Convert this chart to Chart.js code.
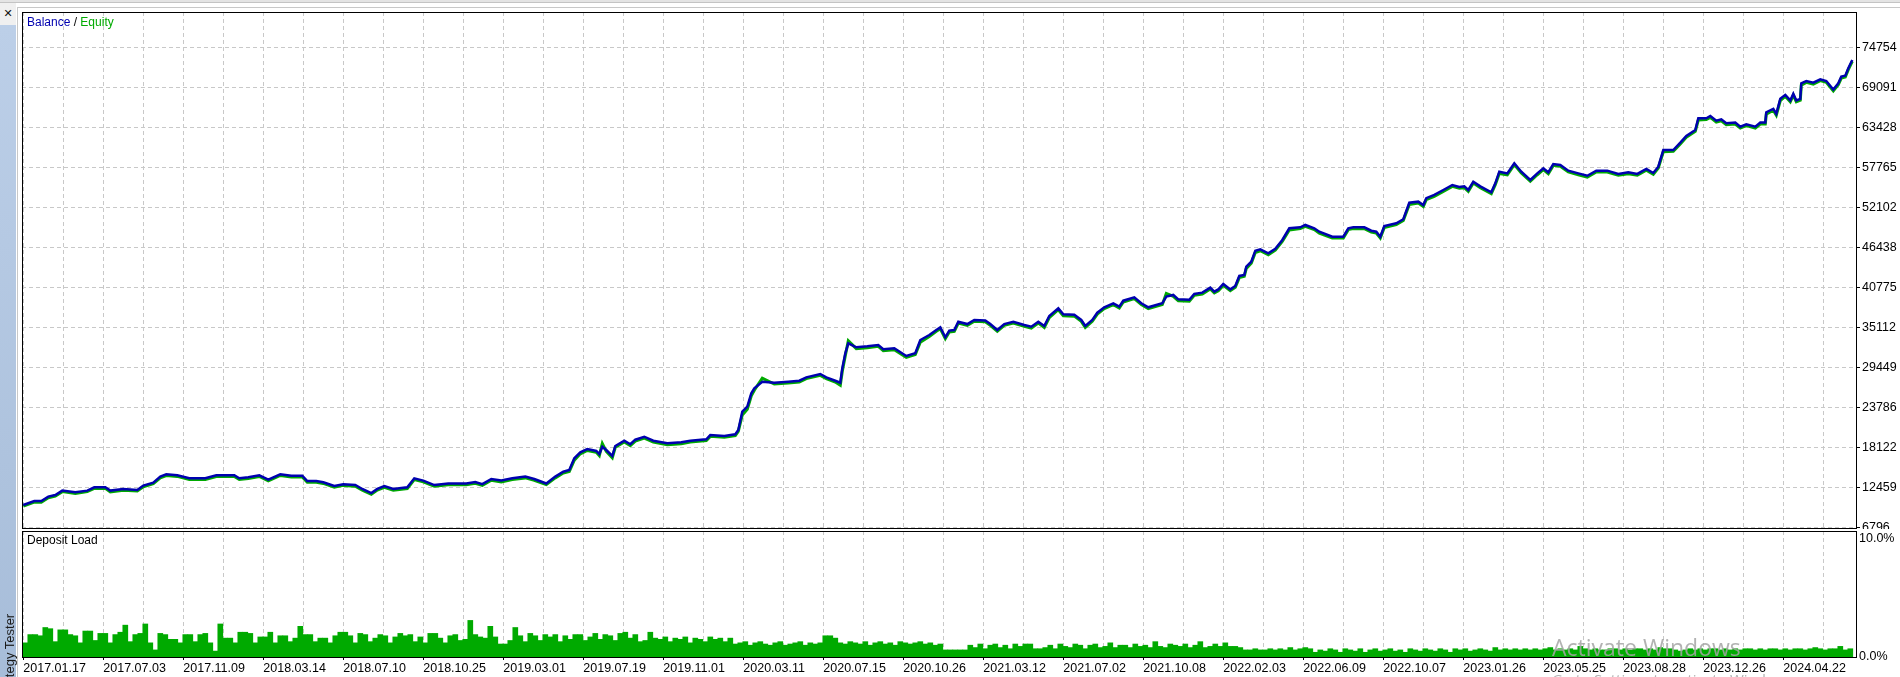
<!DOCTYPE html>
<html>
<head>
<meta charset="utf-8">
<script src="https://cdn.jsdelivr.net/npm/chart.js@4.4.1/dist/chart.umd.min.js"></script>
<style>
  html, body { margin: 0; padding: 0; background: #fff; }
  #wrap { position: relative; width: 1900px; height: 677px; overflow: hidden; background: #fff; }
  #wrap canvas { position: absolute; left: 0; }
  #balance-chart { top: 0; }
  #load-chart { top: 529px; }
  .chrome { position: absolute; z-index: 5; }
  #topband { left: 0; top: 0; width: 1900px; height: 2px; background: #e4e4e4; border-bottom: 1px solid #c4c4c4; }
  #frameTop { left: 17px; top: 7px; width: 1883px; height: 0; border-top: 1px solid #c8c8c8; }
  #frameLeft { left: 17px; top: 7px; width: 0; height: 670px; border-left: 1px solid #c8c8c8; }
  #sideHead { left: 0; top: 3px; width: 16px; height: 22px; background: #f0f0f0;
    font: bold 11px "DejaVu Sans", sans-serif; color: #111; text-align: center; line-height: 22px; }
  #side { left: 0; top: 25px; width: 16px; height: 652px; background: linear-gradient(#bccfe8, #a7bdd9); }
  #sideText { left: 3px; top: 701px; transform-origin: 0 0; transform: rotate(-90deg);
    font: 13px "Liberation Sans", sans-serif; line-height: 13px; color: #1a1a1a; white-space: nowrap; }
</style>
</head>
<body>
<div id="wrap">
  <canvas id="balance-chart" width="1900" height="540"></canvas>
  <canvas id="load-chart" width="1900" height="148"></canvas>
  <div class="chrome" id="topband"></div>
  <div class="chrome" id="frameTop"></div>
  <div class="chrome" id="frameLeft"></div>
  <div class="chrome" id="side"></div>
  <div class="chrome" id="sideHead">✕</div>
  <div class="chrome" id="sideText">Strategy Tester</div>
</div>
<script>
// подписи дат по нижней оси (каждая вторая линия сетки)
const dateLabels = [
  "2017.01.17", "2017.07.03", "2017.11.09", "2018.03.14", "2018.07.10", "2018.10.25",
  "2019.03.01", "2019.07.19", "2019.11.01", "2020.03.11", "2020.07.15", "2020.10.26",
  "2021.03.12", "2021.07.02", "2021.10.08", "2022.02.03", "2022.06.09", "2022.10.07",
  "2023.01.26", "2023.05.25", "2023.08.28", "2023.12.26", "2024.04.22"
];
const balanceTicks = [6796, 12459, 18122, 23786, 29449, 35112, 40775, 46438, 52102, 57765, 63428, 69091, 74754];
const loadTicks = [0, 10];

// номер сделки (ось X) для точек баланса / эквити
const balanceX = [
  0, 11, 18, 25, 32, 39, 52, 64, 71, 82,
  87, 100, 114, 120, 130, 137, 143, 154, 166, 182,
  193, 211, 216, 225, 236, 245, 257, 268, 279, 284,
  293, 300, 311, 320, 332, 339, 348, 354, 361, 370,
  384, 391, 400, 411, 425, 443, 452, 459, 468, 478,
  489, 502, 511, 523, 532, 540, 546, 551, 557, 564,
  573, 576, 579, 583, 589, 592, 601, 607, 612, 621,
  630, 644, 658, 667, 683, 687, 701, 712, 715, 719,
  724, 728, 731, 739, 751, 765, 776, 783, 797, 803,
  812, 817, 819, 822, 825, 833, 844, 855, 860, 871,
  883, 892, 897, 906, 913, 917, 922, 926, 931, 935,
  944, 951, 962, 967, 974, 981, 990, 1001, 1008, 1015,
  1021, 1026, 1035, 1040, 1051, 1058, 1062, 1069, 1074, 1081,
  1090, 1096, 1100, 1111, 1118, 1125, 1139, 1143, 1150, 1155,
  1166, 1171, 1179, 1187, 1191, 1195, 1200, 1207, 1212, 1216,
  1221, 1223, 1228, 1232, 1237, 1245, 1252, 1259, 1266, 1277,
  1282, 1291, 1296, 1309, 1320, 1325, 1330, 1341, 1348, 1353,
  1357, 1361, 1373, 1380, 1386, 1395, 1400, 1403, 1411, 1420,
  1429, 1436, 1441, 1445, 1450, 1457, 1468, 1472, 1476, 1484,
  1491, 1498, 1507, 1514, 1520, 1525, 1530, 1537, 1545, 1555,
  1564, 1573, 1584, 1595, 1605, 1614, 1623, 1630, 1635, 1640,
  1650, 1657, 1663, 1672, 1675, 1683, 1687, 1693, 1698, 1703,
  1712, 1717, 1723, 1732, 1737, 1742, 1743, 1750, 1753, 1757,
  1762, 1767, 1770, 1773, 1777, 1778, 1783, 1790, 1797, 1803,
  1810, 1815, 1818, 1822, 1825, 1829
];
const balance = [
  9953, 10520, 10520, 11143, 11370, 11990, 11751, 11990, 12459, 12459,
  11990, 12218, 12080, 12700, 13125, 13974, 14300, 14160, 13733, 13733,
  14160, 14160, 13733, 13870, 14160, 13550, 14300, 14100, 14100, 13350,
  13350, 13180, 12640, 12900, 12780, 12220, 11650, 12230, 12640, 12220,
  12459, 13733, 13410, 12780, 13000, 13000, 13200, 12900, 13640, 13410,
  13733, 13970, 13640, 13000, 13970, 14670, 14910, 16560, 17414, 17880,
  17600, 17170, 18210, 17740, 16890, 18300, 19060, 18550, 19200, 19620,
  19060, 18690, 18830, 19060, 19250, 19860, 19720, 19960, 20570, 23160,
  23870, 25770, 26470, 27410, 27270, 27410, 27550, 28030, 28500, 28030,
  27550, 27270, 29310, 31430, 32850, 32280, 32420, 32600, 32000, 32140,
  31050, 31430, 33310, 34020, 34730, 35112, 33700, 34640, 34730, 35900,
  35570, 36150, 36080, 35570, 34730, 35570, 35900, 35440, 35200, 35900,
  35300, 36720, 37800, 36950, 36880, 36150, 35300, 36150, 37180, 37940,
  38510, 38030, 38880, 39360, 38510, 37940, 38510, 39450, 39690, 39070,
  39000, 39830, 40020, 40720, 40160, 40480, 41240, 40480, 40960, 42380,
  42520, 43690, 44400, 45960, 46140, 45580, 46240, 47470, 49130, 49270,
  49600, 49130, 48650, 47940, 47940, 49130, 49270, 49270, 48790, 48650,
  47940, 49460, 49830, 50410, 52750, 52900, 52420, 53390, 53850, 54550,
  55260, 54980, 55070, 54550, 55730, 55070, 54220, 55500, 57140, 56900,
  58330, 57140, 55970, 56900, 57620, 57050, 58230, 58090, 57290, 56900,
  56570, 57290, 57290, 56830, 57050, 56830, 57530, 56960, 57850, 60210,
  60210, 61250, 62200, 63050, 64710, 64710, 65030, 64360, 64550, 63990,
  64090, 63510, 63850, 63510, 64090, 64090, 65560, 66030, 65320, 67460,
  68020, 67230, 68160, 67230, 67460, 69650, 69980, 69740, 70230, 69980,
  68780, 69650, 70600, 70740, 71780, 72960
];
const equity = [
  9800, 10380, 10350, 10990, 11230, 11850, 11600, 11850, 12300, 12310,
  11800, 12050, 11930, 12540, 12960, 13800, 14120, 14000, 13560, 13580,
  13990, 13980, 13560, 13700, 13990, 13380, 14130, 13930, 13920, 13180,
  13170, 13010, 12460, 12730, 12600, 12040, 11470, 12060, 12460, 12040,
  12280, 13560, 13230, 12600, 12820, 12830, 13020, 12720, 13460, 13230,
  13560, 13790, 13460, 12830, 13790, 14480, 14700, 16300, 17200, 17680,
  17410, 16950, 18650, 17550, 16640, 18120, 18870, 18360, 19010, 19430,
  18870, 18500, 18640, 18870, 19060, 19670, 19530, 19770, 20380, 22700,
  23500, 25400, 26200, 27900, 27080, 27220, 27360, 27840, 28310, 27840,
  27360, 26900, 28900, 31100, 33200, 32100, 32230, 32410, 31800, 31950,
  30850, 31240, 33000, 33800, 34540, 34920, 33500, 34450, 34540, 35700,
  35380, 35960, 35890, 35380, 34540, 35380, 35710, 35250, 35010, 35710,
  35100, 36500, 37600, 36750, 36690, 35960, 35100, 35960, 36990, 37750,
  38320, 37840, 38690, 39170, 38320, 37750, 38320, 39900, 39500, 38880,
  38810, 39640, 39830, 40530, 39970, 40290, 41050, 40290, 40770, 42150,
  42330, 43450, 44200, 45700, 45950, 45380, 46050, 47280, 48900, 49080,
  49410, 48940, 48450, 47740, 47750, 48940, 49080, 49080, 48600, 48450,
  47740, 49250, 49640, 50220, 52500, 52710, 52230, 53200, 53660, 54360,
  55070, 54790, 54880, 54360, 55540, 54880, 54030, 55300, 56900, 56710,
  58140, 56950, 55780, 56710, 57430, 56860, 58040, 57900, 57100, 56710,
  56380, 57100, 57100, 56640, 56860, 56640, 57340, 56770, 57660, 59950,
  60020, 61060, 62010, 62850, 64450, 64520, 64840, 64170, 64360, 63800,
  63900, 63320, 63660, 63320, 63900, 63900, 65300, 65840, 65130, 67200,
  67830, 67040, 67970, 67040, 67270, 69400, 69790, 69550, 70040, 69790,
  68590, 69460, 70400, 70550, 71590, 72770
];

// загрузка депозита, %, по сделкам с шагом loadStep начиная с loadStart
const loadStart = 2;
const loadStep = 5;
const depositLoad = [
  1.2, 1.9, 1.9, 1.8, 2.5, 2.4, 1.3, 2.3, 2.3, 1.9, 1.8, 1.2, 2.2, 2.2, 1.4, 2.0, 2.0, 1.2, 1.9, 2.1,
  2.7, 1.3, 1.9, 2.0, 2.8, 1.2, 0.6, 2.0, 1.9, 1.5, 1.5, 1.2, 1.9, 1.9, 1.3, 1.9, 2.0, 1.2, 0.5, 2.8,
  1.6, 1.6, 1.2, 2.1, 2.1, 2.0, 1.2, 1.7, 1.7, 2.1, 1.2, 1.8, 1.8, 1.3, 1.6, 2.6, 1.9, 1.9, 1.3, 1.6,
  1.6, 1.2, 1.8, 2.1, 2.1, 1.8, 1.2, 2.0, 1.9, 1.3, 1.6, 1.9, 1.8, 1.2, 1.7, 2.0, 1.8, 1.9, 1.3, 1.7,
  1.2, 2.0, 2.0, 1.6, 1.2, 1.8, 1.9, 1.4, 1.5, 3.1, 1.9, 1.7, 1.6, 2.6, 1.7, 1.1, 1.1, 1.4, 2.5, 1.8,
  1.3, 2.0, 1.8, 1.4, 1.9, 1.7, 1.9, 1.3, 1.8, 1.5, 1.9, 1.9, 1.4, 1.7, 2.0, 1.5, 1.9, 1.8, 1.4, 2.0,
  2.1, 1.6, 1.9, 1.3, 1.4, 2.1, 1.6, 1.5, 1.7, 1.3, 1.6, 1.5, 1.7, 1.2, 1.6, 1.5, 1.3, 1.7, 1.5, 1.6,
  1.3, 1.6, 1.1, 1.2, 1.3, 1.0, 1.2, 1.3, 1.1, 1.0, 1.2, 1.3, 1.0, 1.1, 1.2, 1.3, 1.0, 1.2, 1.1, 1.2,
  1.8, 1.8, 1.6, 1.2, 1.1, 1.3, 1.2, 1.1, 1.3, 1.0, 1.2, 1.3, 1.1, 1.2, 1.0, 1.3, 1.2, 1.1, 1.2, 1.3,
  1.1, 1.2, 1.0, 1.1, 0.6, 0.6, 0.6, 0.6, 0.6, 1.0, 0.8, 1.1, 0.7, 1.0, 1.1, 0.8, 1.0, 0.7, 1.1, 0.9,
  1.1, 1.1, 0.7, 0.7, 0.8, 1.0, 0.7, 1.1, 0.9, 0.8, 1.1, 1.0, 0.7, 1.0, 1.1, 0.8, 0.9, 1.2, 0.8, 1.0,
  1.0, 0.8, 1.1, 0.9, 1.0, 0.8, 1.3, 0.9, 0.8, 1.1, 1.0, 0.9, 1.1, 0.8, 1.0, 1.3, 0.8, 0.9, 1.1, 0.9,
  1.2, 0.9, 0.9, 0.8, 0.6, 0.6, 0.7, 0.6, 0.6, 0.7, 0.6, 0.7, 0.6, 0.8, 0.6, 0.7, 0.8, 0.7, 0.4, 0.6,
  0.5, 0.7, 0.6, 0.4, 0.7, 0.6, 0.5, 0.7, 0.4, 0.6, 0.7, 0.5, 0.6, 0.7, 0.5, 0.6, 0.4, 0.7, 0.6, 0.5,
  0.7, 0.6, 0.5, 0.7, 0.6, 0.4, 0.7, 0.6, 0.7, 0.5, 0.6, 0.7, 0.6, 0.5, 0.8, 0.6, 0.7, 0.6, 0.7, 0.6,
  0.7, 0.6, 0.7, 0.6, 0.7, 0.8, 0.6, 0.7, 0.6, 0.7, 0.6, 0.9, 0.7, 0.6, 0.7, 0.6, 0.6, 0.7, 0.7, 0.6,
  0.7, 0.6, 0.7, 0.7, 0.6, 0.7, 0.6, 0.8, 0.7, 0.7, 0.6, 0.5, 0.6, 0.7, 0.6, 0.7, 0.6, 0.7, 0.7, 0.6,
  0.7, 0.6, 0.7, 0.6, 0.7, 0.7, 0.6, 0.7, 0.6, 0.7, 0.7, 0.6, 0.7, 0.6, 0.7, 0.7, 0.6, 0.7, 0.8, 0.7,
  0.6, 0.7, 0.7, 0.9, 0.6, 0.7
];

const X_MIN = -1.3, X_MAX = 1833.7, GRID_STEP = 40, LABEL_STEP = 80;
const BLUE = "#0000b0", GREEN = "#00aa00", GRID = "#c8c8c8";

Chart.defaults.font.family = "'Liberation Sans', Arial, sans-serif";
Chart.defaults.font.size = 12.5;
Chart.defaults.color = "#000";

function gridTicks(scale) {
  const ticks = [];
  for (let v = 0; v <= X_MAX; v += GRID_STEP) ticks.push({ value: v });
  scale.ticks = ticks;
}

// правая ось фиксированной ширины, без автоотступов под подписи
function fixRightAxis(scale) {
  scale.width = 43;
  scale.paddingTop = 0;
  scale.paddingBottom = 0;
}

// рамка панели, белый фон, подписи панелей
const panelFrame = {
  id: "panelFrame",
  beforeDraw(chart, args, opts) {
    if (!opts.background) return;
    const ctx = chart.ctx;
    ctx.save();
    ctx.fillStyle = "#fff";
    ctx.fillRect(0, 0, chart.width, chart.height);
    ctx.restore();
  },
  afterDraw(chart, args, opts) {
    const { ctx, chartArea: a } = chart;
    ctx.save();
    ctx.strokeStyle = "#000";
    ctx.lineWidth = 1;
    ctx.strokeRect(a.left + 0.5, a.top + 0.5, a.right - a.left - 1, a.bottom - a.top);
    ctx.font = "12px 'Liberation Sans', Arial, sans-serif";
    ctx.textBaseline = "middle";
    let x = a.left + 5;
    (opts.title || []).forEach(part => {
      ctx.fillStyle = part.color;
      ctx.fillText(part.text, x, a.top + opts.titleY);
      x += ctx.measureText(part.text).width;
    });
    if (opts.watermark) {
      ctx.textBaseline = "alphabetic";
      ctx.fillStyle = "rgba(165,165,165,0.85)";
      ctx.font = "23px 'Open Sans', sans-serif";
      ctx.fillText("Activate Windows", 1552, 127);
      ctx.font = "15px 'Open Sans', sans-serif";
      ctx.fillText("Go to Settings to activate Windows.", 1552, 156);
    }
    ctx.restore();
  }
};

new Chart(document.getElementById("balance-chart"), {
  type: "line",
  data: {
    datasets: [
      {
        label: "Balance",
        data: balanceX.map((x, i) => ({ x: x, y: balance[i] })),
        borderColor: BLUE,
        borderWidth: 2.5,
        pointRadius: 0,
        tension: 0,
      },
      {
        label: "Equity",
        data: balanceX.map((x, i) => ({ x: x, y: equity[i] })),
        borderColor: GREEN,
        borderWidth: 3,
        pointRadius: 0,
        tension: 0,
      },
    ],
  },
  options: {
    responsive: false,
    animation: false,
    layout: { autoPadding: false, padding: { left: 22, top: 12, right: 0, bottom: 12 } },
    plugins: {
      legend: { display: false },
      tooltip: { enabled: false },
      panelFrame: {
        titleY: 10.7,
        title: [
          { text: "Balance", color: BLUE },
          { text: " / ", color: "#000" },
          { text: "Equity", color: GREEN },
        ],
      },
    },
    scales: {
      x: {
        type: "linear",
        min: X_MIN,
        max: X_MAX,
        afterBuildTicks: gridTicks,
        afterFit(scale) { scale.height = 0; },
        ticks: { display: false },
        grid: { color: GRID, drawTicks: false },
        border: { display: false, dash: [4, 3] },
      },
      y: {
        position: "right",
        min: 6697,
        max: 79752,
        afterBuildTicks(scale) { scale.ticks = balanceTicks.map(v => ({ value: v })); },
        afterFit: fixRightAxis,
        ticks: { padding: 2, callback: v => String(v) },
        grid: { color: GRID, tickColor: "#000", tickLength: 3, tickBorderDash: [] },
        border: { display: false, dash: [4, 3] },
      },
    },
  },
  plugins: [panelFrame],
});

new Chart(document.getElementById("load-chart"), {
  type: "bar",
  data: {
    datasets: [
      {
        label: "Deposit Load",
        data: depositLoad.map((v, i) => ({ x: loadStart + i * loadStep, y: v })),
        backgroundColor: GREEN,
        borderWidth: 0,
        barPercentage: 1,
        categoryPercentage: 1,
      },
    ],
  },
  options: {
    responsive: false,
    animation: false,
    layout: { autoPadding: false, padding: { left: 22, top: 2, right: 0, bottom: 0 } },
    plugins: {
      legend: { display: false },
      tooltip: { enabled: false },
      panelFrame: {
        background: true,
        watermark: true,
        titleY: 10,
        title: [{ text: "Deposit Load", color: "#000" }],
      },
    },
    scales: {
      x: {
        type: "linear",
        min: X_MIN,
        max: X_MAX,
        offset: false,
        afterBuildTicks: gridTicks,
        afterFit(scale) { scale.height = 20; scale.paddingLeft = 0; scale.paddingRight = 0; },
        ticks: {
          autoSkip: false,
          maxRotation: 0,
          align: "start",
          padding: 1,
          callback: v => (v % LABEL_STEP === 0 ? dateLabels[v / LABEL_STEP] || "" : ""),
        },
        grid: {
          offset: false,
          color: GRID,
          tickLength: 3,
          tickBorderDash: [],
          tickColor: c => (c.tick && c.tick.value % LABEL_STEP === 0 ? "#000" : "rgba(0,0,0,0)"),
        },
        border: { display: false, dash: [4, 3] },
      },
      y: {
        position: "right",
        min: 0,
        max: 10.68,
        afterBuildTicks(scale) { scale.ticks = loadTicks.map(v => ({ value: v })); },
        afterFit: fixRightAxis,
        ticks: { padding: 2, callback: v => v.toFixed(1) + "%" },
        grid: { display: false, drawOnChartArea: false, drawTicks: false },
        border: { display: false },
      },
    },
  },
  plugins: [panelFrame],
});
</script>
</body>
</html>
